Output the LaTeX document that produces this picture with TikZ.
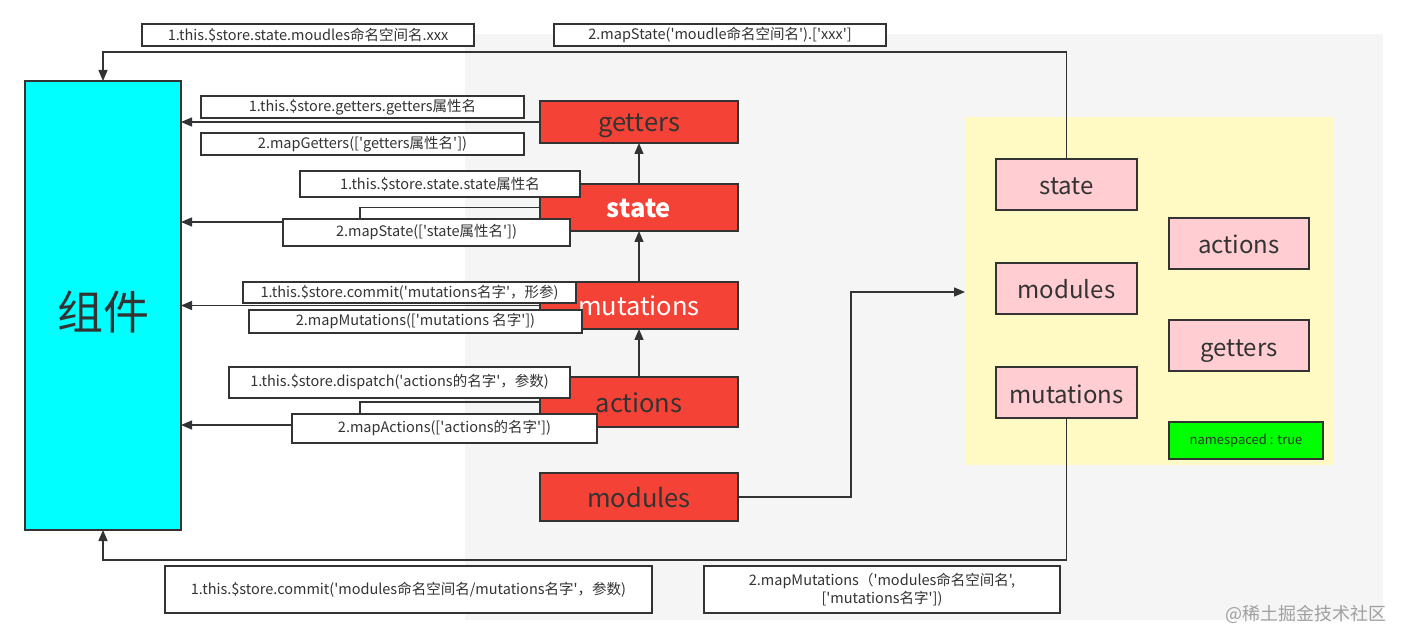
\documentclass[tikz,border=0pt]{standalone}
\usepackage{fontspec}
\setmainfont{Noto Sans CJK SC}[Ligatures=TeXOff]
\usetikzlibrary{arrows.meta}
\definecolor{redbg}{RGB}{244,67,54}
\definecolor{pinkbg}{RGB}{255,205,210}
\definecolor{yellowbg}{RGB}{255,249,196}
\definecolor{graybg}{RGB}{245,245,245}
\definecolor{cyanbg}{RGB}{0,255,255}
\definecolor{greenbg}{RGB}{0,255,0}
\definecolor{ink}{RGB}{51,51,51}
\definecolor{wm}{RGB}{160,160,160}
\begin{document}
\begin{tikzpicture}[x=1pt,y=1pt,
  box/.style={draw=ink,line width=1.4pt,inner sep=0pt,outer sep=0pt},
  redbox/.style={box,fill=redbg,minimum width=198pt,text=ink,text height=20pt,text depth=0pt,font=\fontsize{25.5}{29}\selectfont},
  pinkbox/.style={box,fill=pinkbg,minimum height=51pt,text=ink,text height=21pt,text depth=0pt,font=\fontsize{24}{28}\selectfont},
  lbl/.style={box,fill=white,text=ink,font=\fontsize{14.5}{17.5}\selectfont},
  conn/.style={draw=ink,line width=1.4pt},
  arr/.style={conn,-{Triangle[length=11pt,width=9pt]}}]
\useasboundingbox (0,0) rectangle (1406,-644);
% backgrounds
\fill[graybg] (465,-34) rectangle (1383,-620);
\node[fill=yellowbg,inner sep=0pt,outer sep=0pt,minimum width=369pt,minimum height=348pt] (ybox) at (1149.5,-291) {};
% main component
\node[box,fill=cyanbg,minimum width=156pt,minimum height=449pt,text=ink,text height=49pt,text depth=0pt,font=\fontsize{46}{50}\selectfont] (comp) at (103,-305.5) {组件};
% red store boxes
\node[redbox,minimum height=42pt] (getR) at (639,-122) {getters};
\node[redbox,minimum height=47pt,text=white,font=\fontsize{25.5}{29}\selectfont\bfseries] (stateR) at (639,-207.5) {state};
\node[redbox,minimum height=47pt,text=white] (mutR) at (639,-305.5) {mutations};
\node[redbox,minimum height=50pt] (actR) at (639,-402) {actions};
\node[redbox,minimum height=48pt] (modR) at (639,-497) {modules};
% module boxes
\node[pinkbox,minimum width=141pt] (pState) at (1066.5,-184.5) {state};
\node[pinkbox,minimum width=141pt] (pMod) at (1066.5,-288.5) {modules};
\node[pinkbox,minimum width=141pt] (pMut) at (1066.5,-392.5) {mutations};
\node[pinkbox,minimum width=140pt] (pAct) at (1239,-243.5) {actions};
\node[pinkbox,minimum width=140pt] (pGet) at (1239,-345.5) {getters};
\node[box,fill=greenbg,minimum width=154pt,minimum height=37pt,text=ink,font=\fontsize{13}{15}\selectfont] (ns) at (1246,-440.5) {namespaced : true};
% connectors
\draw[arr] (actR.north) -- (mutR.south);
\draw[arr] (mutR.north) -- (stateR.south);
\draw[arr] (stateR.north) -- (getR.south);
\draw[arr] (getR.west) -- (getR.west -| comp.east);
\draw[arr] (stateR.west) -- (360,-207.5) -- (360,-222) -- (comp.east |- 0,-222);
\draw[arr] (mutR.west) -- (mutR.west -| comp.east);
\draw[arr] (actR.west) -- (360,-402) -- (360,-425) -- (comp.east |- 0,-425);
\draw[arr] (modR.east) -- (851,-497) -- (851,-292) -- (ybox.west |- 0,-292);
\draw[arr] (pState.north) -- (1066.5,-52) -| (comp.north);
\draw[arr] (pMut.south) -- (1066.5,-560) -| (comp.south);
% labels
\node[lbl,minimum width=332pt,minimum height=22pt] (t1) at (308,-35) {1.this.\$store.state.moudles命名空间名.xxx};
\node[lbl,minimum width=332pt,minimum height=22pt] (t2) at (720,-35) {2.mapState('moudle命名空间名').['xxx']};
\node[lbl,minimum width=323pt,minimum height=22pt] (g1) at (362.5,-107) {1.this.\$store.getters.getters属性名};
\node[lbl,minimum width=323pt,minimum height=22pt] (g2) at (362.5,-144) {2.mapGetters(['getters属性名'])};
\node[lbl,minimum width=280pt,minimum height=26pt] (s1) at (440,-184) {1.this.\$store.state.state属性名};
\node[lbl,minimum width=287pt,minimum height=27pt] (s2) at (426.5,-232.5) {2.mapState(['state属性名'])};
\node[lbl,minimum width=333pt,minimum height=21pt] (m1) at (409.5,-292.5) {1.this.\$store.commit('mutations名字'，形参)};
\node[lbl,minimum width=333pt,minimum height=23pt] (m2) at (415.5,-321.5) {2.mapMutations(['mutations 名字'])};
\node[lbl,minimum width=341pt,minimum height=31pt] (a1) at (399.5,-382.5) {1.this.\$store.dispatch('actions的名字'，参数)};
\node[lbl,minimum width=305pt,minimum height=29pt] (a2) at (444.5,-428.5) {2.mapActions(['actions的名字'])};
\node[lbl,minimum width=487pt,minimum height=47pt] (b1) at (408.5,-589.5) {1.this.\$store.commit('modules命名空间名/mutations名字'，参数)};
\node[lbl,minimum width=356pt,minimum height=47pt,align=center] (b2) at (882,-589.5) {2.mapMutations（'modules命名空间名',\\{}{[}'mutations名字'])};
\node[text=wm,font=\fontsize{18}{20}\selectfont,inner sep=0pt] (wmk) at (1306,-614) {@稀土掘金技术社区};
\end{tikzpicture}
\end{document}
